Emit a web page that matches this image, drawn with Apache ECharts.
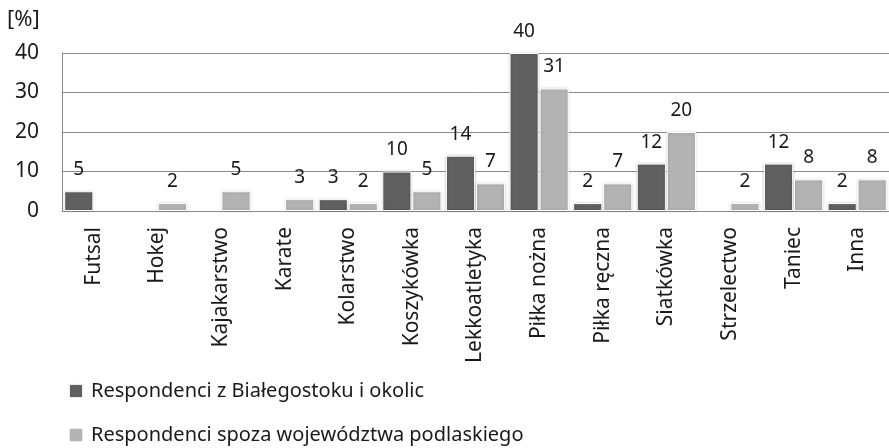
<!DOCTYPE html>
<html><head><meta charset="utf-8">
<script src="https://cdn.jsdelivr.net/npm/echarts@6/dist/echarts.min.js"></script>
<style>html,body{margin:0;padding:0;background:#fff}#c{width:889px;height:448px}</style>
</head><body><div id="c"></div>
<script>
const categories = ['Futsal','Hokej','Kajakarstwo','Karate','Kolarstwo','Koszykówka','Lekkoatletyka','Piłka nożna','Piłka ręczna','Siatkówka','Strzelectwo','Taniec','Inna'];
const seriesNames = ['Respondenci z Białegostoku i okolic','Respondenci spoza województwa podlaskiego'];
const valuesLocal = [5,0,0,0,3,10,14,40,2,12,0,12,2];
const valuesOther = [0,2,5,3,2,5,7,31,7,20,2,8,8];
const yTicks = [0,10,20,30,40];
const colors = ['#606060','#b3b3b3'];
const font = 'Noto Sans';

const chart = echarts.init(document.getElementById('c'));
function mk(name, vals, color){
  return {
    name, type:'bar', data: vals.map(v => v === 0 ? '-' : v), barGap:'3%', barCategoryGap:'7%',
    itemStyle:{color, borderColor:'#fff', borderWidth:1, shadowBlur:3, shadowColor:'rgba(0,0,0,0.2)'},
    label:{show:true, position:'top', distance:12, color:'#1a1a1a', fontSize:19, fontFamily:font,
      formatter: p => String(p.value)}
  };
}
function leg(name, top){
  return {orient:'vertical', left:70, top, padding:0, itemWidth:12, itemHeight:12, icon:'rect',
    itemStyle:{borderColor:'#fff', borderWidth:0, shadowBlur:2, shadowColor:'rgba(0,0,0,0.25)'},
    textStyle:{fontSize:20, fontFamily:font, color:'#1a1a1a', padding:[0,0,0,4]}, data:[name]};
}
chart.setOption({
  animation:false,
  color: colors,
  grid:{left:62, right:0, top:53, bottom:237, containLabel:false},
  graphic:[{type:'text', left:7, top:9, style:{text:'[%]', fontSize:22, fontFamily:font, fill:'#1a1a1a'}}],
  legend:[leg(seriesNames[0], 381), leg(seriesNames[1], 425)],
  xAxis:{type:'category', data:categories,
    axisLine:{show:true, lineStyle:{color:'#8c8c8c'}}, axisTick:{show:false},
    axisLabel:{rotate:90, interval:0, fontSize:21, fontFamily:font, color:'#1a1a1a', margin:16}},
  yAxis:{type:'value', min:0, max:40, interval:10,
    axisLine:{show:true, lineStyle:{color:'#8c8c8c'}}, axisTick:{show:false},
    splitLine:{lineStyle:{color:'#8c8c8c'}},
    axisLabel:{fontSize:21, fontFamily:font, color:'#1a1a1a', margin:23,
      formatter: v => yTicks.includes(v) ? String(v) : ''}},
  series:[mk(seriesNames[0], valuesLocal, colors[0]), mk(seriesNames[1], valuesOther, colors[1])]
});
</script></body></html>
